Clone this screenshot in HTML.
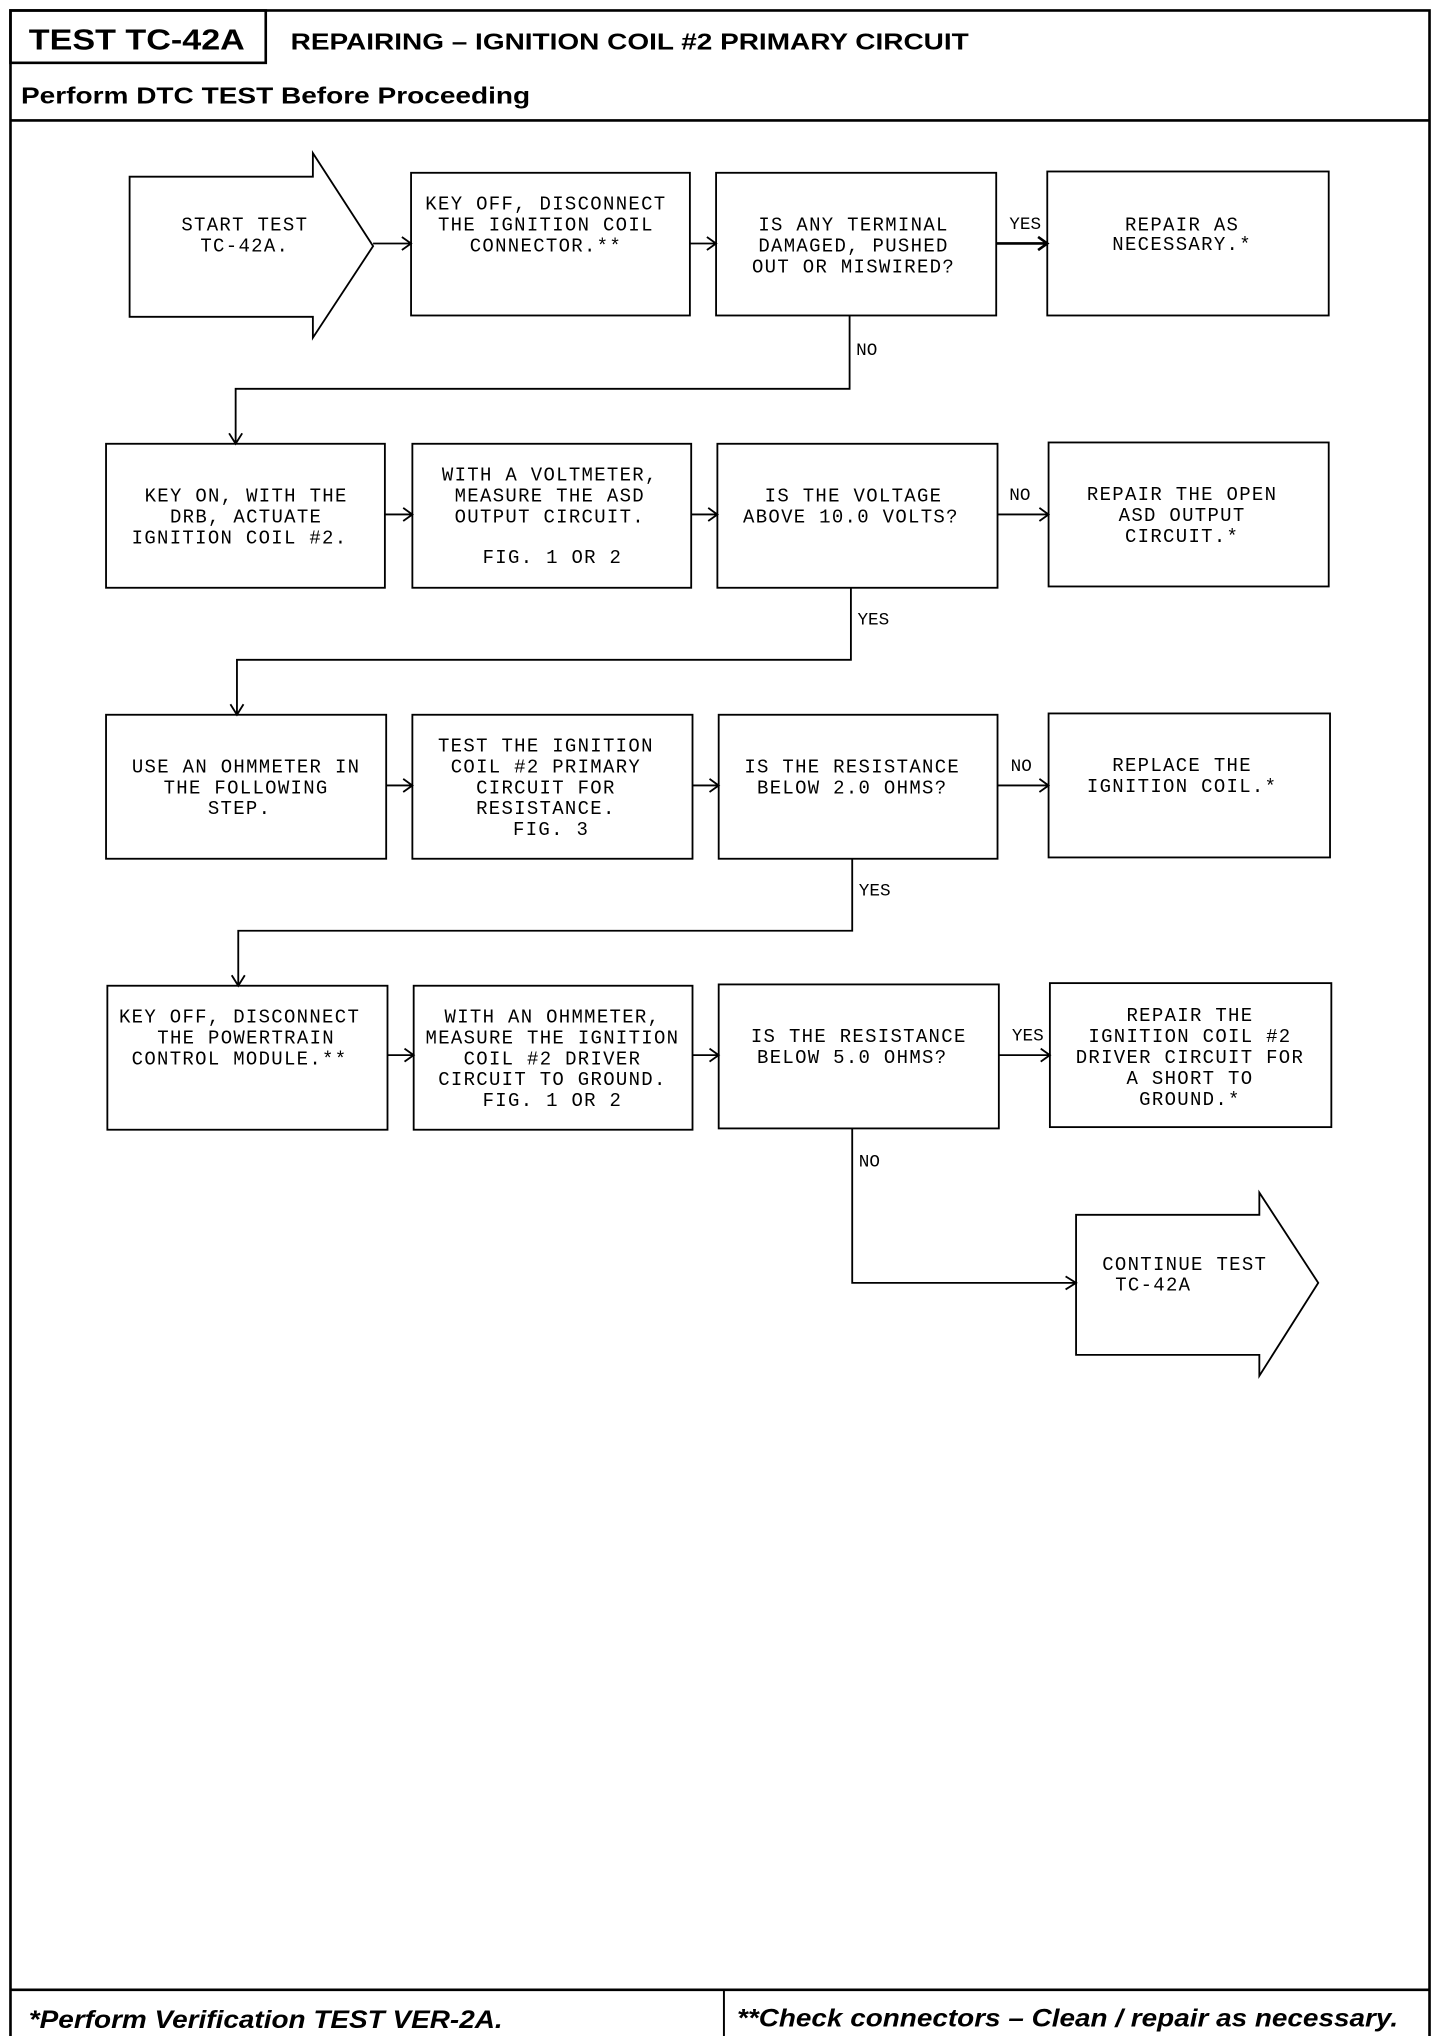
<!DOCTYPE html>
<html><head><meta charset="utf-8"><style>
html,body{margin:0;padding:0;background:#fff}
svg{display:block}
.m{font-family:"Liberation Mono",monospace;font-size:14.5px;letter-spacing:1px;text-anchor:middle;fill:#000}
.l{font-family:"Liberation Mono",monospace;font-size:13.5px;fill:#000}
.h{font-family:"Liberation Sans",sans-serif;font-weight:bold;fill:#000}
</style></head><body>
<svg width="1440" height="2036" viewBox="0 0 1100 1555.3" xmlns="http://www.w3.org/2000/svg">
<g fill="none" stroke="#000" stroke-width="1.4">
<rect x="8" y="8" width="1084" height="1553" stroke-width="2"/>
<rect x="8" y="8" width="195" height="40" stroke-width="2"/>
<line x1="8" y1="92" x2="1092" y2="92" stroke-width="2"/>
<line x1="8" y1="1520" x2="1092" y2="1520" stroke-width="2"/>
<line x1="553" y1="1520" x2="553" y2="1561" stroke-width="1.5"/>
<!-- row1 -->
<polygon points="99,135 239,135 239,117 285,188 239,258 239,242 99,242"/>
<rect x="314" y="132" width="213" height="109"/>
<rect x="547" y="132" width="214" height="109"/>
<rect x="800" y="131" width="215" height="110"/>
<!-- row2 -->
<rect x="81" y="339" width="213" height="110"/>
<rect x="315" y="339" width="213" height="110"/>
<rect x="548" y="339" width="214" height="110"/>
<rect x="801" y="338" width="214" height="110"/>
<!-- row3 -->
<rect x="81" y="546" width="214" height="110"/>
<rect x="315" y="546" width="214" height="110"/>
<rect x="549" y="546" width="213" height="110"/>
<rect x="801" y="545" width="215" height="110"/>
<!-- row4 -->
<rect x="82" y="753" width="214" height="110"/>
<rect x="316" y="753" width="213" height="110"/>
<rect x="549" y="752" width="214" height="110"/>
<rect x="802" y="751" width="215" height="110"/>
<polygon points="822,928 962,928 962,911 1007,980 962,1051 962,1035 822,1035"/>
<!-- horizontal connectors -->
<path d="M285,186 H314 M307,181 L314,186 L307,191"/>
<path d="M527,186 H547 M540,181 L547,186 L540,191"/>
<path d="M761,186 H800 M793,181 L800,186 L793,191" stroke-width="2"/>
<path d="M294,393 H315 M308,388 L315,393 L308,398"/>
<path d="M528,393 H548 M541,388 L548,393 L541,398"/>
<path d="M762,393 H801 M794,388 L801,393 L794,398"/>
<path d="M295,600 H315 M308,595 L315,600 L308,605"/>
<path d="M529,600 H549 M542,595 L549,600 L542,605"/>
<path d="M762,600 H801 M794,595 L801,600 L794,605"/>
<path d="M296,806 H316 M309,801 L316,806 L309,811"/>
<path d="M529,806 H549 M542,801 L549,806 L542,811"/>
<path d="M763,806 H802 M795,801 L802,806 L795,811"/>
<!-- vertical connectors -->
<path d="M649,241 V297 H180 V339 M175,331 L180,339 L185,331"/>
<path d="M650,449 V504 H181 V546 M176,538 L181,546 L186,538"/>
<path d="M651,656 V711 H182 V753 M177,745 L182,753 L187,745"/>
<path d="M651,862 V980 H822 M814,975 L822,980 L814,985"/>
</g>
<text class="h" x="22" y="38" font-size="22" textLength="165" lengthAdjust="spacingAndGlyphs">TEST TC-42A</text>
<text class="h" x="222" y="38" font-size="18" textLength="518" lengthAdjust="spacingAndGlyphs">REPAIRING – IGNITION COIL #2 PRIMARY CIRCUIT</text>
<text class="h" x="16" y="79" font-size="18" textLength="389" lengthAdjust="spacingAndGlyphs">Perform DTC TEST Before Proceeding</text>
<text class="h" x="22" y="1549" font-size="19" font-style="italic" textLength="362" lengthAdjust="spacingAndGlyphs">*Perform Verification TEST VER-2A.</text>
<text class="h" x="563" y="1548" font-size="19" font-style="italic" textLength="505" lengthAdjust="spacingAndGlyphs">**Check connectors – Clean / repair as necessary.</text>

<g class="m">
<text x="187" y="176">START TEST</text><text x="187" y="192">TC-42A.</text>
<text x="417" y="160">KEY OFF, DISCONNECT</text><text x="417" y="176">THE IGNITION COIL</text><text x="417" y="192">CONNECTOR.**</text>
<text x="652" y="176">IS ANY TERMINAL</text><text x="652" y="192">DAMAGED, PUSHED</text><text x="652" y="208">OUT OR MISWIRED?</text>
<text x="903" y="176">REPAIR AS</text><text x="903" y="191">NECESSARY.*</text>

<text x="188" y="383">KEY ON, WITH THE</text><text x="188" y="399">DRB, ACTUATE</text><text x="183" y="415">IGNITION COIL #2.</text>
<text x="420" y="367">WITH A VOLTMETER,</text><text x="420" y="383">MEASURE THE ASD</text><text x="420" y="399">OUTPUT CIRCUIT.</text><text x="422" y="430">FIG. 1 OR 2</text>
<text x="652" y="383">IS THE VOLTAGE</text><text x="650" y="399">ABOVE 10.0 VOLTS?</text>
<text x="903" y="382">REPAIR THE OPEN</text><text x="903" y="398">ASD OUTPUT</text><text x="903" y="414">CIRCUIT.*</text>

<text x="188" y="590">USE AN OHMMETER IN</text><text x="188" y="606">THE FOLLOWING</text><text x="183" y="622">STEP.</text>
<text x="417" y="574">TEST THE IGNITION</text><text x="417" y="590">COIL #2 PRIMARY</text><text x="417" y="606">CIRCUIT FOR</text><text x="417" y="622">RESISTANCE.</text><text x="421" y="638">FIG. 3</text>
<text x="651" y="590">IS THE RESISTANCE</text><text x="651" y="606">BELOW 2.0 OHMS?</text>
<text x="903" y="589">REPLACE THE</text><text x="903" y="605">IGNITION COIL.*</text>

<text x="183" y="781">KEY OFF, DISCONNECT</text><text x="188" y="797">THE POWERTRAIN</text><text x="183" y="813">CONTROL MODULE.**</text>
<text x="422" y="781">WITH AN OHMMETER,</text><text x="422" y="797">MEASURE THE IGNITION</text><text x="422" y="813">COIL #2 DRIVER</text><text x="422" y="829">CIRCUIT TO GROUND.</text><text x="422" y="845">FIG. 1 OR 2</text>
<text x="656" y="796">IS THE RESISTANCE</text><text x="651" y="812">BELOW 5.0 OHMS?</text>
<text x="909" y="780">REPAIR THE</text><text x="909" y="796">IGNITION COIL #2</text><text x="909" y="812">DRIVER CIRCUIT FOR</text><text x="909" y="828">A SHORT TO</text><text x="909" y="844">GROUND.*</text>

<text x="905" y="970">CONTINUE TEST</text><text x="881" y="986">TC-42A</text>
</g>
<g class="l">
<text x="771" y="175">YES</text>
<text x="654" y="271">NO</text>
<text x="771" y="382">NO</text>
<text x="655" y="477">YES</text>
<text x="772" y="589">NO</text>
<text x="656" y="684">YES</text>
<text x="773" y="795">YES</text>
<text x="656" y="891">NO</text>
</g>
</svg>
</body></html>
